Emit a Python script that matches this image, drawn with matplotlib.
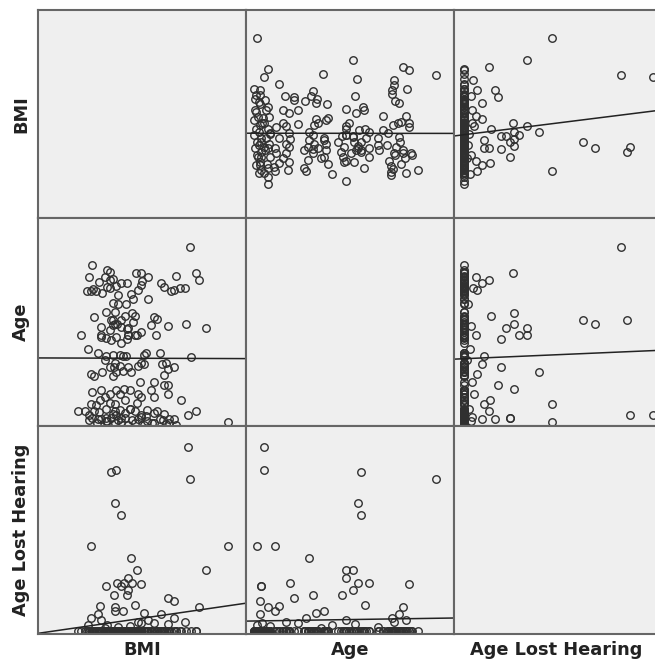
import numpy as np
import matplotlib
matplotlib.use('Agg')
import matplotlib.pyplot as plt

# people who lost their hearing after birth (bmi, age, age lost hearing)
hl_bmi = [36.6, 23.6, 22.7, 36.9, 23.4, 24.5, 19.1, 43.8, 26.3, 27.4, 39.7, 25.8,
          23.8, 26.4, 28.1, 21.8, 24.5, 25.0, 23.2, 25.6, 25.7, 32.9, 34.1, 26.9,
          38.5, 20.6, 23.3, 20.3, 23.3, 28.7, 24.8, 19.1, 20.9, 27.5, 34.1, 31.7,
          29.3, 22.0, 26.0, 30.5, 18.5, 33.0, 24.0, 36.0, 28.0, 21.5]
hl_age = [5.5, 5.5, 47.6, 80.3, 46.2, 47.6, 10.3, 2.1, 24.8, 41.1, 44.3, 41.1,
          46.2, 51.0, 68.7, 4.0, 4.0, 16.8, 26.6, 39.3, 44.3, 18.6, 3.6, 49.4,
          65.8, 12.0, 7.0, 3.6, 10.3, 28.0, 31.6, 23.7, 41.1, 14.9, 61.1, 64.3,
          67.2, 2.5, 8.0, 20.0, 35.0, 45.0, 55.0, 62.0, 4.5, 30.0]
hl_lost = [60.4, 53.0, 52.3, 50.1, 42.0, 38.2, 28.0, 28.0, 23.9, 20.1, 20.1, 17.5,
           15.8, 15.8, 15.6, 14.8, 14.8, 15.8, 11.8, 11.8, 13.4, 10.9, 9.8, 8.5,
           7.8, 8.2, 8.0, 5.6, 6.4, 5.8, 6.4, 4.2, 3.7, 3.1, 4.2, 5.6,
           3.7, 2.0, 1.5, 2.5, 1.8, 2.2, 1.2, 2.8, 2.6, 1.0]

# born deaf (age lost hearing = 0)
bd_age = [1.1, 1.9, 3.3, 1.6, 2.6, 1.1, 3.6, 1.9, 3.0, 1.1, 4.0, 2.1, 3.3, 1.6,
          4.0, 2.6, 3.6, 1.9, 4.0, 3.0, 5.9, 7.0, 6.2, 7.7, 5.5, 7.0, 8.0, 6.2,
          7.4, 5.9, 8.0, 6.5, 7.1, 5.5, 7.0, 7.0, 12.0, 14.6, 13.5, 16.4, 13.5,
          10.6, 16.4, 12.0, 14.9, 16.4, 10.6, 14.9, 13.5, 16.4, 15.7, 9.9, 7.0, 3.6,
          2.0, 3.5, 5.0, 1.5,
          26.6, 23.4, 28.0, 18.6, 31.2, 33.1, 32.4, 28.7, 27.3, 26.6, 31.6, 25.1,
          27.3, 24.4, 28.7, 32.4, 26.6, 31.6, 24.4, 33.1, 22.9, 32.4, 20.0, 22.9,
          28.5, 33.0, 26.0,
          41.1, 48.4, 49.1, 45.4, 41.1, 41.1, 37.5, 44.7, 49.8, 54.9, 40.4, 39.6,
          45.4, 51.3, 40.4, 44.7, 51.3, 49.1, 41.1, 45.9, 42.5, 46.9, 38.9, 43.3,
          47.6, 44.0,
          57.4, 62.2, 67.5, 61.0, 62.4, 68.7, 65.1, 61.4, 68.7, 63.6, 59.3, 64.3,
          55.6, 62.2, 65.8, 69.4, 60.7, 60.7, 60.7, 67.2, 72.3, 57.1,
          60.0, 62.5, 65.0, 67.0, 63.0, 59.0, 66.0, 70.0, 61.5, 64.5]
bd_bmi = [34.3, 33.2, 32.0, 30.4, 29.2, 28.6, 27.6, 27.0, 26.4, 25.8, 25.2, 24.5,
          23.9, 23.3, 22.7, 21.8, 20.8, 20.2, 19.3, 18.7, 32.3, 31.0, 30.4, 29.2,
          28.0, 27.0, 26.1, 25.2, 24.2, 23.0, 21.8, 20.5, 19.6, 18.7, 18.0, 16.8,
          35.3, 33.0, 30.4, 29.8, 28.0, 27.3, 26.1, 25.2, 24.2, 23.6, 22.4, 22.4,
          21.5, 20.8, 19.3, 19.9, 38.0, 33.2,
          30.0, 31.5, 29.0, 32.5,
          34.0, 32.2, 31.8, 32.3, 37.1, 28.9, 28.6, 28.0, 27.6, 25.8, 25.3, 24.9,
          24.2, 23.6, 23.3, 23.0, 22.4, 21.8, 21.1, 20.4, 19.6, 24.2, 27.8, 23.0,
          32.5, 31.5, 33.0,
          30.7, 31.0, 30.4, 29.8, 27.0, 25.8, 24.5, 24.5, 25.2, 25.3, 23.6, 21.8,
          23.0, 23.3, 20.8, 20.8, 21.8, 19.6, 17.2, 36.2, 28.0, 26.7, 22.7, 22.4,
          23.0, 25.5,
          29.3, 35.1, 34.3, 33.4, 32.2, 37.9, 28.3, 27.6, 27.2, 28.0, 26.2, 25.5,
          23.1, 22.4, 22.5, 22.4, 20.0, 19.0, 18.4, 18.7, 19.3, 26.7,
          21.0, 22.0, 20.5, 21.5, 23.5, 24.0, 23.0, 22.0, 19.5, 24.5]

names = ['BMI', 'Age', 'Age Lost Hearing']

bmi = np.array(hl_bmi + bd_bmi)
age = np.array(hl_age + bd_age)
lost = np.array(hl_lost + [0.0] * len(bd_age))
cols = [bmi, age, lost]

xlims = [(9.5, 47.0), (-2.5, 88.2), (-3.3, 63.4)]
ylims = [(10.4, 49.0), (0.45, 93.4), (-1.0, 67.4)]

W, H = 655, 663
fig = plt.figure(figsize=(W / 100, H / 100), dpi=100)
fig.patch.set_facecolor('white')

x0s = [38, 246, 454]
y0s = [10, 218, 426]
size = 208

for r in range(3):
    for c in range(3):
        ax = fig.add_axes([x0s[c] / W, (H - y0s[r] - size) / H, size / W, size / H])
        ax.set_facecolor('#efefef')
        ax.set_xlim(xlims[c])
        ax.set_ylim(ylims[r])
        ax.set_xticks([])
        ax.set_yticks([])
        for s in ax.spines.values():
            s.set_color('#666666')
            s.set_linewidth(1.5)
        if r == c:
            continue
        x = cols[c]
        y = cols[r]
        ax.plot(x, y, linestyle='none', marker='o', ms=5.4, mfc='none',
                mec='#303030', mew=1.0)
        # linear fit line
        k, b = np.polyfit(x, y, 1)
        xx = np.array(xlims[c])
        ax.plot(xx, k * xx + b, color='#222222', lw=1.1)

# variable names
for i, name in enumerate(names):
    fig.text(21 / W, 1 - (y0s[i] + size / 2) / H, name, rotation=90,
             ha='center', va='center', fontsize=12.8, fontweight='bold', color='#222222')
xcent = [142, 350, 556]
for i, name in enumerate(names):
    fig.text(xcent[i] / W, 1 - 650 / H, name, ha='center', va='center',
             fontsize=12.8, fontweight='bold', color='#222222')

fig.savefig('out.png', dpi=100)
